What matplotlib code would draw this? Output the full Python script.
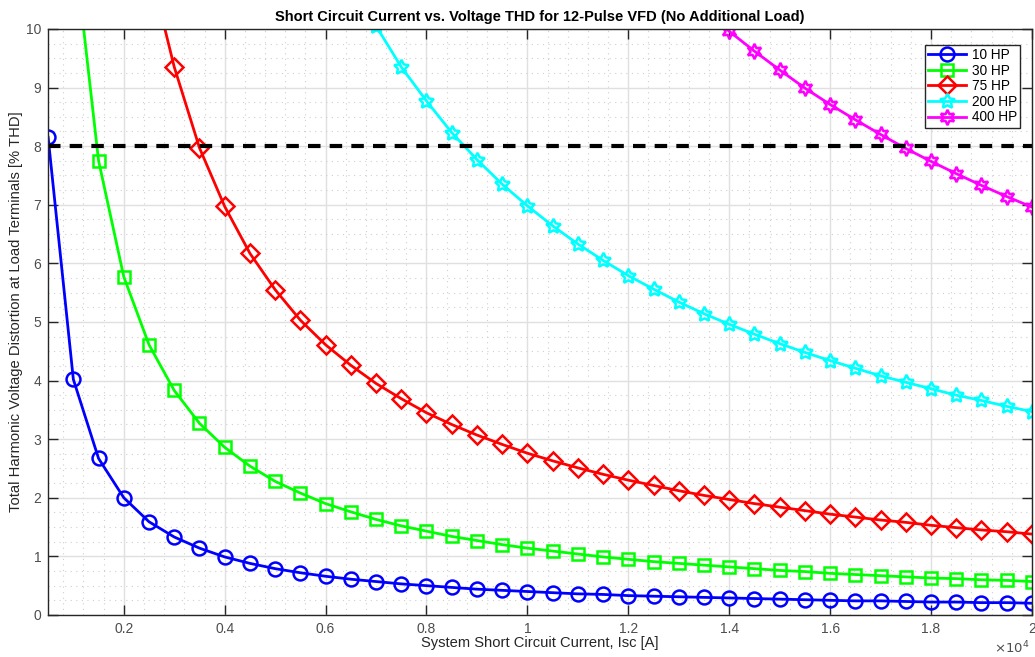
import numpy as np
import matplotlib
matplotlib.use('Agg')
import matplotlib.pyplot as plt
from matplotlib.ticker import MultipleLocator

plt.rcParams['font.family'] = ['Liberation Sans', 'DejaVu Sans']

nan = np.nan

# system short circuit current [A]
isc = [500, 1000, 1500, 2000, 2500, 3000, 3500, 4000, 4500, 5000,
       5500, 6000, 6500, 7000, 7500, 8000, 8500, 9000, 9500, 10000,
       10500, 11000, 11500, 12000, 12500, 13000, 13500, 14000, 14500, 15000,
       15500, 16000, 16500, 17000, 17500, 18000, 18500, 19000, 19500, 20000]

# % THD at load terminals (nan = far above the plotted range)
thd_10hp = [8.15, 4.02, 2.67, 2.00, 1.59, 1.33, 1.14, 0.99, 0.88, 0.79,
            0.72, 0.66, 0.61, 0.57, 0.53, 0.50, 0.47, 0.44, 0.42, 0.40,
            0.38, 0.36, 0.35, 0.33, 0.32, 0.31, 0.30, 0.29, 0.28, 0.27,
            0.26, 0.25, 0.24, 0.24, 0.23, 0.22, 0.22, 0.21, 0.21, 0.20]
thd_30hp = [nan, 11.55, 7.75, 5.77, 4.61, 3.83, 3.27, 2.86, 2.54, 2.28,
            2.08, 1.90, 1.76, 1.63, 1.52, 1.43, 1.34, 1.27, 1.20, 1.14,
            1.09, 1.04, 0.99, 0.95, 0.91, 0.88, 0.85, 0.82, 0.79, 0.76,
            0.74, 0.71, 0.69, 0.67, 0.65, 0.63, 0.62, 0.60, 0.59, 0.57]
thd_75hp = [nan, nan, nan, nan, 11.1, 9.35, 7.97, 6.97, 6.17, 5.55,
            5.03, 4.61, 4.26, 3.95, 3.69, 3.45, 3.25, 3.07, 2.91, 2.76,
            2.63, 2.51, 2.40, 2.30, 2.21, 2.12, 2.04, 1.97, 1.90, 1.84,
            1.78, 1.72, 1.67, 1.62, 1.58, 1.53, 1.49, 1.45, 1.42, 1.38]
thd_200hp = [nan, nan, nan, nan, nan, nan, nan, nan, nan, nan,
             nan, nan, 10.75, 10.05, 9.35, 8.77, 8.23, 7.77, 7.35, 6.98,
             6.64, 6.33, 6.05, 5.79, 5.56, 5.34, 5.14, 4.96, 4.79, 4.63,
             4.48, 4.34, 4.21, 4.08, 3.97, 3.86, 3.75, 3.66, 3.56, 3.47]
thd_400hp = [nan, nan, nan, nan, nan, nan, nan, nan, nan, nan,
             nan, nan, nan, nan, nan, nan, nan, nan, nan, nan,
             nan, nan, nan, nan, nan, nan, 10.32, 9.96, 9.62, 9.30,
             8.99, 8.71, 8.45, 8.20, 7.96, 7.74, 7.53, 7.33, 7.14, 6.96]

labels = ['10 HP', '30 HP', '75 HP', '200 HP', '400 HP']
thd_limit = 8

xticks = [2000, 4000, 6000, 8000, 10000, 12000, 14000, 16000, 18000, 20000]
xticklabels = ['0.2', '0.4', '0.6', '0.8', '1', '1.2', '1.4', '1.6', '1.8', '2']

fig = plt.figure(figsize=(10.35, 6.57), dpi=100)
ax = fig.add_axes([0.0465, 0.064, 0.9505, 0.892])

series = [thd_10hp, thd_30hp, thd_75hp, thd_200hp, thd_400hp]
colors = ['#0000ff', '#00ff00', '#ff0000', '#00ffff', '#ff00ff']
markers = ['o', 's', 'D', (5, 1, 0), (6, 1, 0)]
sizes = [10, 9, 9, 11, 11]

for vals, c, m, ms, lab in zip(series, colors, markers, sizes, labels):
    ax.plot(isc, vals, color=c, lw=2, marker=m, ms=ms, mfc='none',
            mec=c, mew=1.8, label=lab)

ax.axhline(thd_limit, color='black', ls=(0, (3, 2.2)), lw=3)

ax.set_xlim(500, 20000)
ax.set_ylim(0, 10)
ax.set_xticks(xticks)
ax.set_xticklabels(xticklabels)
ax.set_yticks(range(0, 11))
ax.xaxis.set_minor_locator(MultipleLocator(400))
ax.yaxis.set_minor_locator(MultipleLocator(0.25))

ax.grid(which='major', color='#e0e0e0', lw=1)
ax.grid(which='minor', color='#cfcfcf', ls=(0, (1, 4)), lw=0.8)
ax.set_axisbelow(True)

ax.tick_params(which='major', direction='in', length=7, width=1,
               top=True, right=True, labelsize=10, colors='#262626',
               labelcolor='#4d4d4d', pad=5)
ax.tick_params(which='minor', length=0)
for s in ax.spines.values():
    s.set_color('#262626')
    s.set_linewidth(1)

ax.text(0.998, -0.043, r'$\times10^{4}$', transform=ax.transAxes,
        ha='right', va='top', fontsize=9.5, color='#4d4d4d')

ax.set_title('Short Circuit Current vs. Voltage THD for 12-Pulse VFD (No Additional Load)',
             fontsize=10.5, fontweight='bold', pad=6)
ax.set_xlabel('System Short Circuit Current, Isc [A]', fontsize=10.6, color='#262626', labelpad=0)
ax.set_ylabel('Total Harmonic Voltage Distortion at Load Terminals [% THD]',
              fontsize=10.6, color='#262626')
ax.yaxis.set_label_coords(-0.026, 0.518)

leg = ax.legend(loc='upper right', bbox_to_anchor=(0.995, 0.985), fontsize=9.8,
                fancybox=False, framealpha=1, edgecolor='#262626',
                handlelength=2.8, borderpad=0.25, labelspacing=0.12,
                handletextpad=0.4)
leg.get_frame().set_linewidth(1)

fig.savefig('out.png', dpi=100)
